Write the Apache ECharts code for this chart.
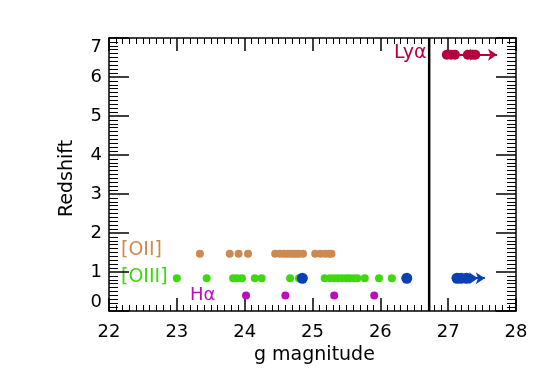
<!DOCTYPE html>
<html><head><meta charset="utf-8">
<script src="https://cdn.jsdelivr.net/npm/echarts@6/dist/echarts.min.js"></script>
<style>html,body{margin:0;padding:0;background:#fff}#c{width:545px;height:389px}</style>
</head><body><div id="c"></div>
<script>
// ---- data ----
const xTicks = [22, 23, 24, 25, 26, 27, 28];
const yTicks = [0, 1, 2, 3, 4, 5, 6, 7];
const zOII = 1.47, zOIII = 0.84, zHa = 0.40, zLya = 6.57;
const oiiMag = [23.34, 23.78, 23.91, 24.05, 24.45, 24.52, 24.58, 24.63, 24.68, 24.72, 24.76, 24.80, 24.86, 25.04, 25.12, 25.19, 25.25, 25.28];
const oiiiMag = [23.00, 23.44, 23.83, 23.89, 23.96, 24.15, 24.25, 24.67, 24.80, 25.18, 25.26, 25.32, 25.38, 25.44, 25.50, 25.55, 25.61, 25.66, 25.77, 25.98, 26.17];
const haMag = [24.02, 24.60, 25.32, 25.91];
const blueMag = [24.85, 26.39, 27.13, 27.19, 27.27];
const blueLimFrom = [27.13, 27.27];
const blueLimTo = [27.44, 27.54];
const lyaMag = [26.98, 27.04, 27.10, 27.29, 27.36, 27.40];
const lyaLimFrom = [26.98, 27.40];
const lyaLimTo = [27.45, 27.72];
const cutMag = 26.72;

const cOII = '#CD8A4E', cOIII = '#3FD80F', cHa = '#BC0CBC', cLya = '#B5003F', cBlue = '#0A40B5';
const FONT = 'DejaVu Sans';

function pts(arr, z) { return arr.map(m => [m, z]); }
function segs(from, to, z) { return from.map((f, i) => ({ coords: [[f, z], [to[i], z]] })); }

function labelAxis(pos, min, max, lbl) {
  return {
    type: 'value', position: pos, min: min, max: max, interval: 1,
    axisLine: { show: false, onZero: false },
    axisTick: { show: false }, minorTick: { show: false },
    splitLine: { show: false }, minorSplitLine: { show: false },
    axisLabel: lbl
  };
}
function tickAxis(pos, min, max, majLen, minLen) {
  return {
    type: 'value', position: pos, min: min, max: max, interval: 1,
    axisLine: { show: true, onZero: false, lineStyle: { color: '#000', width: 1.5 } },
    axisTick: { show: true, inside: true, length: majLen, lineStyle: { color: '#000', width: 1.5 } },
    minorTick: { show: true, splitNumber: 10, length: minLen, lineStyle: { color: '#000', width: 1 } },
    splitLine: { show: false }, minorSplitLine: { show: false },
    axisLabel: { show: false }
  };
}

const xMin = xTicks[0], xMax = xTicks[xTicks.length - 1];
const yMin = yTicks[0], yMax = yTicks[yTicks.length - 1];

const chart = echarts.init(document.getElementById('c'));
chart.setOption({
  animation: false,
  grid: { left: 109, right: 29, top: 38, bottom: 78 },
  xAxis: [
    labelAxis('bottom', xMin, xMax, { show: true, color: '#000', fontFamily: FONT, fontSize: 18, margin: 12 }),
    tickAxis('bottom', xMin, xMax, 13, 6),
    tickAxis('top', xMin, xMax, 13, 6)
  ],
  yAxis: [
    labelAxis('left', yMin, yMax, { show: true, color: '#000', fontFamily: FONT, fontSize: 18, margin: 7,
      verticalAlignMinLabel: 'bottom', verticalAlignMaxLabel: 'top' }),
    tickAxis('left', yMin, yMax, 20, 9),
    tickAxis('right', yMin, yMax, 20, 9)
  ],
  series: [
    { type: 'line', data: [[cutMag, 0], [cutMag, 7]], symbol: 'none', lineStyle: { color: '#000', width: 2.5 } },
    { type: 'scatter', data: pts(oiiMag, zOII), symbolSize: 8, itemStyle: { color: cOII, opacity: 1 } },
    { type: 'scatter', data: pts(oiiiMag, zOIII), symbolSize: 8, itemStyle: { color: cOIII, opacity: 1 } },
    { type: 'scatter', data: pts(haMag, zHa), symbolSize: 8, itemStyle: { color: cHa, opacity: 1 } },
    { type: 'lines', coordinateSystem: 'cartesian2d', data: segs(blueLimFrom, blueLimTo, zOIII),
      symbol: ['none', 'arrow'], symbolSize: 9, lineStyle: { color: cBlue, width: 2, opacity: 1 } },
    { type: 'scatter', data: pts(blueMag, zOIII), symbolSize: 11, itemStyle: { color: cBlue, opacity: 1 } },
    { type: 'lines', coordinateSystem: 'cartesian2d', data: segs(lyaLimFrom, lyaLimTo, zLya),
      symbol: ['none', 'arrow'], symbolSize: 9, lineStyle: { color: cLya, width: 2, opacity: 1 } },
    { type: 'scatter', data: pts(lyaMag, zLya), symbolSize: 10, itemStyle: { color: cLya, opacity: 1 } }
  ],
  graphic: [
    { type: 'text', left: 121, top: 241, style: { text: '[OII]', fill: cOII, font: '19px "DejaVu Sans"' } },
    { type: 'text', left: 121, top: 268, style: { text: '[OIII]', fill: cOIII, font: '19px "DejaVu Sans"' } },
    { type: 'text', left: 190, top: 286, style: { text: 'Hα', fill: cHa, font: '18px "DejaVu Sans"' } },
    { type: 'text', left: 394, top: 44, style: { text: 'Lyα', fill: cLya, font: '19px "DejaVu Sans"' } },
    { type: 'text', left: 254, top: 346, style: { text: 'g magnitude', fill: '#000', font: '19px "DejaVu Sans"' } },
    { type: 'text', x: 58, y: 217, rotation: Math.PI / 2, style: { text: 'Redshift', fill: '#000', font: '19px "DejaVu Sans"' } }
  ]
});
</script></body></html>
